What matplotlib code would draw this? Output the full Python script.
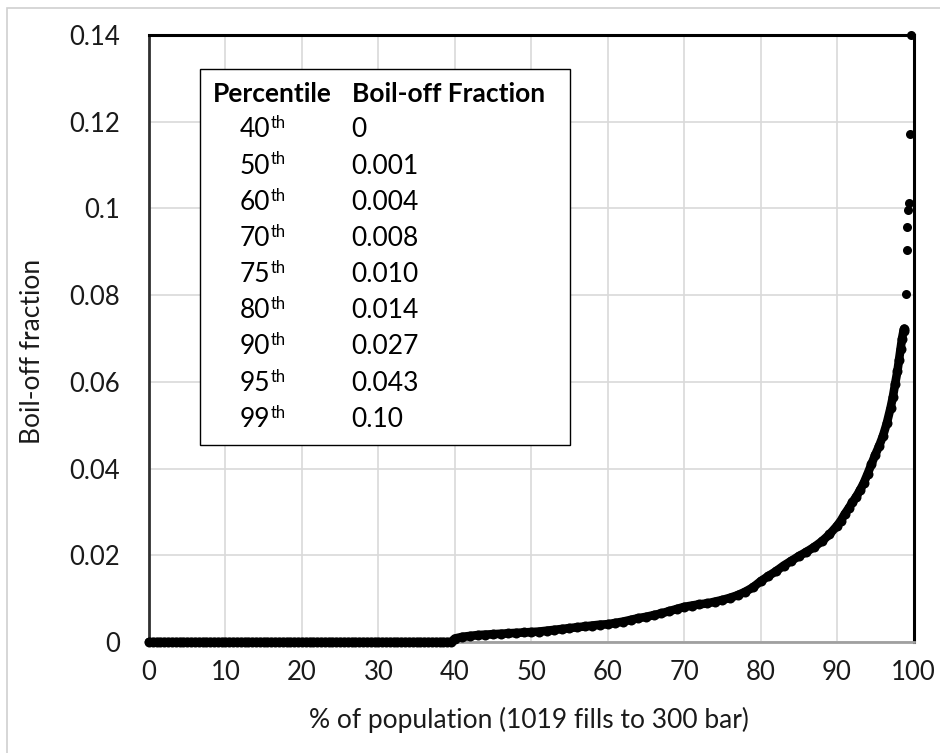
import matplotlib
matplotlib.use("Agg")
import matplotlib.pyplot as plt
from matplotlib.patches import Rectangle
import numpy as np

plt.rcParams["font.family"] = ["Lato", "DejaVu Sans"]

W, H = 940, 753

# Sorted boil-off fraction of each fill against percent of the population
zero_pct = np.arange(0, 40, 0.5)          # fills with no boil-off
zero_frac = np.zeros_like(zero_pct)

curve_pct = [40, 41, 42, 43, 44, 45, 46, 47, 48, 49,
             50, 51, 52, 53, 54, 55, 56, 57, 58, 59,
             60, 61, 62, 63, 64, 65, 66, 67, 68, 69,
             70, 71, 72, 73, 74, 75, 76, 77, 78, 79,
             80, 81, 82, 83, 84, 85, 86, 87, 88, 89,
             90, 90.5, 91, 91.5, 92, 92.5, 93, 93.5, 94, 94.5,
             95, 95.5, 96, 96.5, 97, 97.3, 97.6, 97.9, 98.1, 98.3,
             98.5, 98.7, 98.8]
curve_frac = [0.0008, 0.0012, 0.0014, 0.0016, 0.0017, 0.0018, 0.0019, 0.0020, 0.0021, 0.0022,
              0.0023, 0.0024, 0.0026, 0.0028, 0.0030, 0.0032, 0.0034, 0.0036, 0.0038, 0.0040,
              0.0041, 0.0044, 0.0047, 0.0051, 0.0055, 0.0058, 0.0062, 0.0066, 0.0071, 0.0076,
              0.0081, 0.0084, 0.0087, 0.0089, 0.0093, 0.0097, 0.0102, 0.0108, 0.0116, 0.0126,
              0.0140, 0.0152, 0.0163, 0.0176, 0.0187, 0.0198, 0.0208, 0.0219, 0.0232, 0.0248,
              0.0268, 0.0280, 0.0295, 0.0308, 0.0322, 0.0335, 0.0350, 0.0367, 0.0388, 0.0410,
              0.0432, 0.0452, 0.0475, 0.0504, 0.0540, 0.0565, 0.0596, 0.0625, 0.0650, 0.0675,
              0.0700, 0.0718, 0.0723]

tail_pct = [99.0, 99.1, 99.2, 99.3, 99.4, 99.5, 99.7]
tail_frac = [0.0803, 0.0903, 0.0957, 0.0997, 0.1012, 0.1172, 0.1400]

x_ticks = [0, 10, 20, 30, 40, 50, 60, 70, 80, 90, 100]
y_ticks = [0, 0.02, 0.04, 0.06, 0.08, 0.10, 0.12, 0.14]
y_tick_labels = ["0", "0.02", "0.04", "0.06", "0.08", "0.1", "0.12", "0.14"]

table_percentiles = ["40", "50", "60", "70", "75", "80", "90", "95", "99"]
table_fractions = ["0", "0.001", "0.004", "0.008", "0.010", "0.014", "0.027", "0.043", "0.10"]


def fx(x):
    return x / W


def fy(y):
    return 1 - y / H


fig = plt.figure(figsize=(W / 100, H / 100), dpi=100)
fig.patch.set_facecolor("white")

# light frame round the whole chart
fig.add_artist(Rectangle((fx(7.5), fy(1000)), fx(1100), fy(7.5) - fy(1000),
                         transform=fig.transFigure, fill=False,
                         edgecolor="#d0d0d0", linewidth=1.2, zorder=0))

left, right, top, bottom = 149, 913.5, 35, 642
ax = fig.add_axes([fx(left), fy(bottom), fx(right - left), fy(top) - fy(bottom)])

# dense run of fills: drawn as touching dots
dense_pct = list(zero_pct) + curve_pct
dense_frac = list(zero_frac) + curve_frac
ax.plot(dense_pct, dense_frac, "-o", color="black", linewidth=6.2, markersize=7.2,
        markeredgewidth=0, solid_capstyle="round", solid_joinstyle="round",
        clip_on=False, zorder=3)
ax.plot(tail_pct, tail_frac, "o", color="black", markersize=6.5, markeredgewidth=0,
        clip_on=False, zorder=3)

ax.set_xlim(0, 100)
ax.set_ylim(0, 0.14)
ax.set_xticks(x_ticks)
ax.set_xticklabels([str(t) for t in x_ticks])
ax.set_yticks(y_ticks)
ax.set_yticklabels(y_tick_labels)
ax.tick_params(axis="both", length=0, labelsize=18.5, colors="#1a1a1a")
ax.tick_params(axis="x", pad=13)
ax.tick_params(axis="y", pad=21)
ax.grid(True, color="#d9d9d9", linewidth=1.2)
ax.set_axisbelow(True)

for side in ("top", "right"):
    ax.spines[side].set_color("black")
    ax.spines[side].set_linewidth(2.2)
ax.spines["left"].set_color("#303030")
ax.spines["left"].set_linewidth(2.0)
ax.spines["bottom"].set_color("#a0a0a0")
ax.spines["bottom"].set_linewidth(2.0)

fig.text(fx(529), fy(720), "% of population (1019 fills to 300 bar)",
         ha="center", va="center", fontsize=19, color="#1a1a1a")
fig.text(fx(33), fy(351), "Boil-off fraction", ha="center", va="center",
         rotation=90, fontsize=19, color="#1a1a1a")

# percentile table
fig.add_artist(Rectangle((fx(199.5), fy(445)), fx(569.5 - 199.5), fy(68.5) - fy(445),
                         transform=fig.transFigure, facecolor="white",
                         edgecolor="black", linewidth=1.0, zorder=2))
tfs = 19
fig.text(fx(212.5), fy(101.5), "Percentile", fontsize=tfs, fontweight="bold",
         ha="left", va="baseline", zorder=3)
fig.text(fx(351.5), fy(101.5), "Boil-off Fraction", fontsize=tfs, fontweight="bold",
         ha="left", va="baseline", zorder=3)
row_step = 36.2
for i, (p, f) in enumerate(zip(table_percentiles, table_fractions)):
    base = 137.3 + i * row_step
    t = fig.text(fx(239.5), fy(base), p, fontsize=tfs, ha="left", va="baseline", zorder=3)
    fig.text(fx(351.0), fy(base), f, fontsize=tfs, ha="left", va="baseline", zorder=3)
    fig.add_artist(plt.Annotation("th", xy=(1.0, 1.0), xycoords=t,
                                  xytext=(0.5, 1.5), textcoords="offset points",
                                  ha="left", va="top", fontsize=12, zorder=3))

fig.savefig("out.png", dpi=100, facecolor="white")
